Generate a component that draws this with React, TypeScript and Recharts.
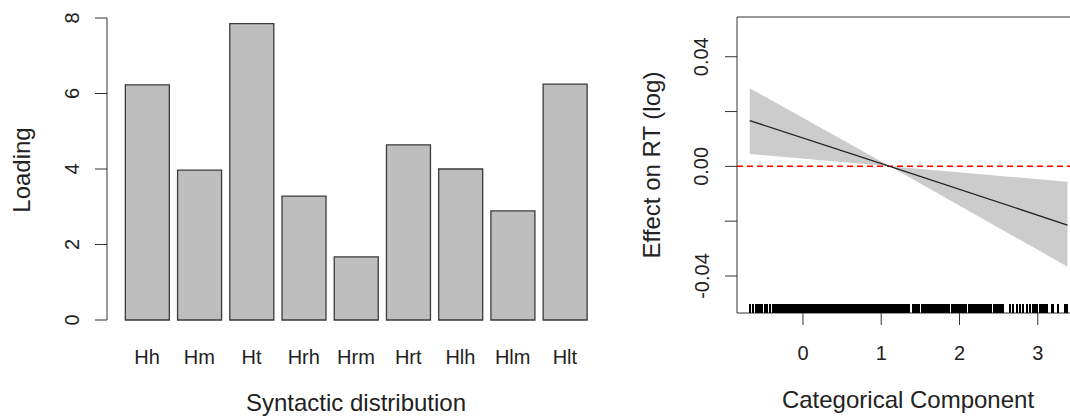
import React from 'react';
import {
  BarChart, Bar, XAxis, YAxis, ComposedChart, Area, Line, Scatter,
  ReferenceLine, ReferenceArea,
} from 'recharts';

// left panel: loadings per syntactic distribution
const categories = ['Hh', 'Hm', 'Ht', 'Hrh', 'Hrm', 'Hrt', 'Hlh', 'Hlm', 'Hlt'];
const loadings = [6.23, 3.97, 7.85, 3.28, 1.67, 4.64, 4.0, 2.89, 6.25];
const loadingTicks = [0, 2, 4, 6, 8];

// right panel: effect of categorical component on RT
const effX = [-0.68, 1.11, 3.38];
const effFit = [0.0167, 0, -0.0214];
const effLower = [0.0045, 0, -0.0366];
const effUpper = [0.0285, 0, -0.0056];
const effTicks = [-0.04, -0.02, 0, 0.02, 0.04];
const effTickLabels = ['-0.04', '', '0.00', '', '0.04'];
const compTicks = [0, 1, 2, 3];

// rug of observed component values
const rugValues = [
  -0.68, -0.64, -0.60, -0.58, -0.55, -0.52, -0.48, -0.46, -0.42,
  -0.38, -0.36, -0.34, -0.32, -0.30, -0.28, -0.26, -0.24, -0.22, -0.20,
  -0.18, -0.16, -0.14, -0.12, -0.10, -0.08, -0.06, -0.04, -0.02, 0.00,
  0.02, 0.04, 0.06, 0.08, 0.10, 0.12, 0.14, 0.16, 0.18, 0.20,
  0.22, 0.24, 0.26, 0.28, 0.30, 0.32, 0.34, 0.36, 0.38, 0.40,
  0.42, 0.44, 0.46, 0.48, 0.50, 0.52, 0.54, 0.56, 0.58, 0.60,
  0.62, 0.64, 0.66, 0.68, 0.70, 0.72, 0.74, 0.76, 0.78, 0.80,
  0.82, 0.84, 0.86, 0.88, 0.90, 0.92, 0.94, 0.96, 0.98, 1.00,
  1.02, 1.04, 1.06, 1.08, 1.10, 1.12, 1.14, 1.16, 1.18, 1.20,
  1.22, 1.24, 1.26, 1.28, 1.30, 1.32, 1.34, 1.36, 1.40,
  1.42, 1.44, 1.46, 1.48, 1.52, 1.54, 1.56, 1.58, 1.60,
  1.62, 1.64, 1.66, 1.68, 1.70, 1.72, 1.74, 1.76, 1.78, 1.80,
  1.82, 1.84, 1.86, 1.90, 1.92, 1.94, 1.96, 1.98, 2.00,
  2.02, 2.04, 2.06, 2.08, 2.12, 2.14, 2.16, 2.18, 2.20,
  2.22, 2.24, 2.26, 2.28, 2.30, 2.32, 2.34, 2.36, 2.38, 2.40,
  2.44, 2.46, 2.48, 2.50,
  2.53, 2.55, 2.64, 2.69, 2.73, 2.77, 2.81, 2.86, 2.90, 2.94, 2.96, 2.99,
  3.03, 3.05, 3.07, 3.09, 3.11, 3.12, 3.18, 3.20, 3.26, 3.35, 3.37,
];

const X_DOMAIN: [number, number] = [-0.843, 3.54];
const Y_DOMAIN: [number, number] = [-0.0535, 0.0545];

const FONT = '"Liberation Sans", Arial, sans-serif';
const INK = '#222';

const barData = categories.map((name, i) => ({ name, loading: loadings[i] }));
const effData = effX.map((x, i) => ({ x, fit: effFit[i], band: [effLower[i], effUpper[i]] }));
const rugData = rugValues.map((x) => ({ x, y: Y_DOMAIN[0] }));

// R style y labels: parallel to the axis
const makeRotTick = (labelFor: (v: number) => string) => (props: any) => {
  const { x, y, payload } = props;
  const bx = x - 16.5;
  return (
    <text x={bx} y={y} transform={`rotate(-90 ${bx} ${y})`} textAnchor="middle"
      fontSize={20} fill={INK} fontFamily={FONT}>
      {labelFor(payload.value)}
    </text>
  );
};

const makeXTick = (dy: number) => (props: any) => {
  const { x, y, payload } = props;
  return (
    <text x={x} y={y} dy={dy} textAnchor="middle" fontSize={20} fill={INK} fontFamily={FONT}>
      {String(payload.value)}
    </text>
  );
};

const RugMark = (props: any) => {
  const { cx, cy } = props;
  return <line x1={cx} x2={cx} y1={cy} y2={cy - 9} stroke="#000" strokeWidth={2} shapeRendering="crispEdges" />;
};

export default function App() {
  return (
    <div style={{ position: 'fixed', left: 0, top: 0, width: 1070, height: 416, overflow: 'hidden', background: '#fff', fontFamily: FONT }}>
      <div style={{ position: 'absolute', left: 0, top: 0 }}>
        <BarChart width={620} height={416} data={barData} barCategoryGap="8.33%"
          margin={{ top: 18, right: 15, bottom: 36, left: 0 }}>
          <XAxis dataKey="name" height={60} padding={{ left: 14, right: 14 }}
            axisLine={false} tickLine={false} tickSize={0} tickMargin={0}
            interval={0} tick={makeXTick(44)} />
          <YAxis width={107} domain={[0, 8]} ticks={loadingTicks} interval={0}
            axisLine={{ stroke: '#333' }} tickLine={{ stroke: '#333' }} tickSize={12} tickMargin={0}
            tick={makeRotTick((v) => String(v))} />
          <Bar dataKey="loading" fill="#bebebe" stroke="#3a3a3a" strokeWidth={1.3} isAnimationActive={false} />
        </BarChart>
      </div>

      <div style={{ position: 'absolute', left: 620, top: 0 }}>
        <ComposedChart width={470} height={416} data={effData}
          margin={{ top: 17, right: 10, bottom: 43, left: 0 }}>
          <XAxis dataKey="x" type="number" domain={X_DOMAIN} ticks={compTicks} allowDataOverflow
            height={60} axisLine={false} tickLine={{ stroke: '#333' }} tickSize={12} tickMargin={0}
            interval={0} tick={makeXTick(35)} />
          <YAxis type="number" domain={Y_DOMAIN} ticks={effTicks} allowDataOverflow interval={0}
            width={117} axisLine={false} tickLine={{ stroke: '#333' }} tickSize={12} tickMargin={0}
            tick={makeRotTick((v) => effTickLabels[effTicks.indexOf(v)] ?? '')} />
          <Area type="linear" dataKey="band" fill="#cccccc" fillOpacity={1} stroke="none"
            isAnimationActive={false} />
          <ReferenceLine y={0} stroke="#ff0000" strokeWidth={1.5} strokeDasharray="6 4" />
          <Line type="linear" dataKey="fit" stroke="#222" strokeWidth={1.3} dot={false}
            isAnimationActive={false} />
          <Scatter data={rugData} dataKey="y" shape={RugMark} isAnimationActive={false} />
          <ReferenceArea x1={X_DOMAIN[0]} x2={X_DOMAIN[1]} y1={Y_DOMAIN[0]} y2={Y_DOMAIN[1]}
            fill="none" stroke="#333" strokeWidth={1} />
        </ComposedChart>
      </div>

      <svg width={1070} height={416} style={{ position: 'absolute', left: 0, top: 0, pointerEvents: 'none' }}>
        <g fontFamily={FONT} fontSize={24} fill={INK}>
          <text x={30} y={170} transform="rotate(-90 30 170)" textAnchor="middle">Loading</text>
          <text x={356} y={411} textAnchor="middle">Syntactic distribution</text>
          <text x={660} y={165} transform="rotate(-90 660 165)" textAnchor="middle">Effect on RT (log)</text>
          <text x={908} y={408} textAnchor="middle">Categorical Component</text>
        </g>
      </svg>
    </div>
  );
}
